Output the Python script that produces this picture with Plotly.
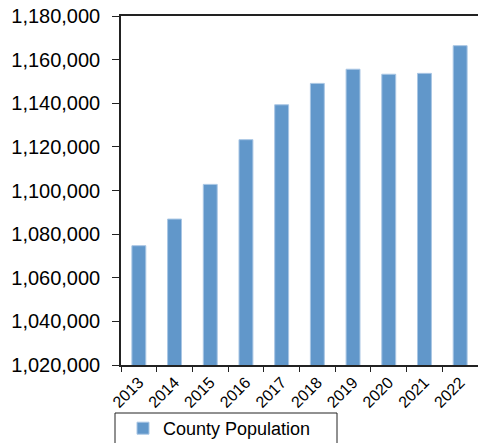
import plotly.graph_objects as go

# Annual county population estimates
years = ["2013", "2014", "2015", "2016", "2017", "2018", "2019", "2020", "2021", "2022"]
population = [1074700, 1086900, 1102800, 1123300, 1139300, 1149100, 1155600, 1153300, 1153700, 1166400]

y_ticks = list(range(1020000, 1180001, 20000))

W, H = 478, 443
M_L, M_R, M_T, M_B = 121, 0, 16, 78
plot_w = W - M_L - M_R
plot_h = H - M_T - M_B


def px_x(x):
    return (x - M_L) / plot_w


def px_y(y):
    return (H - M_B - y) / plot_h


fig = go.Figure()
fig.add_trace(go.Bar(
    x=years,
    y=population,
    name="County Population",
    marker=dict(color="#6197CA", line=dict(color="#A9C6E4", width=1)),
))

font_family = "Liberation Sans, Arial, sans-serif"

# Frame around the legend
fig.add_shape(
    type="rect", xref="paper", yref="paper",
    x0=px_x(115), x1=px_x(337), y0=px_y(413), y1=px_y(446),
    line=dict(color="#222222", width=1), fillcolor="rgba(0,0,0,0)",
)

fig.update_layout(
    width=W,
    height=H,
    margin=dict(l=M_L, r=M_R, t=M_T, b=M_B, autoexpand=False),
    paper_bgcolor="white",
    plot_bgcolor="white",
    bargap=0.61,
    showlegend=True,
    font=dict(family=font_family, color="black"),
    legend=dict(
        orientation="h",
        x=px_x(123),
        xanchor="left",
        y=px_y(410),
        yanchor="top",
        borderwidth=0,
        bgcolor="rgba(0,0,0,0)",
        font=dict(size=18, family=font_family, color="black"),
    ),
    xaxis=dict(
        type="category",
        automargin=False,
        showline=True,
        linecolor="#222222",
        linewidth=1.5,
        mirror=True,
        ticks="outside",
        tickson="boundaries",
        ticklen=5,
        tickcolor="#222222",
        tickangle=-45,
        tickfont=dict(size=16, family=font_family, color="black"),
        showgrid=False,
    ),
    yaxis=dict(
        automargin=False,
        range=[1020000, 1180000],
        tickvals=y_ticks,
        tickformat=",d",
        showline=True,
        linecolor="#222222",
        linewidth=1.5,
        ticks="outside",
        ticklen=7,
        tickcolor="#222222",
        ticklabelstandoff=8,
        tickfont=dict(size=20, family=font_family, color="black"),
        showgrid=False,
        zeroline=False,
    ),
)

fig.write_html("out.html")
